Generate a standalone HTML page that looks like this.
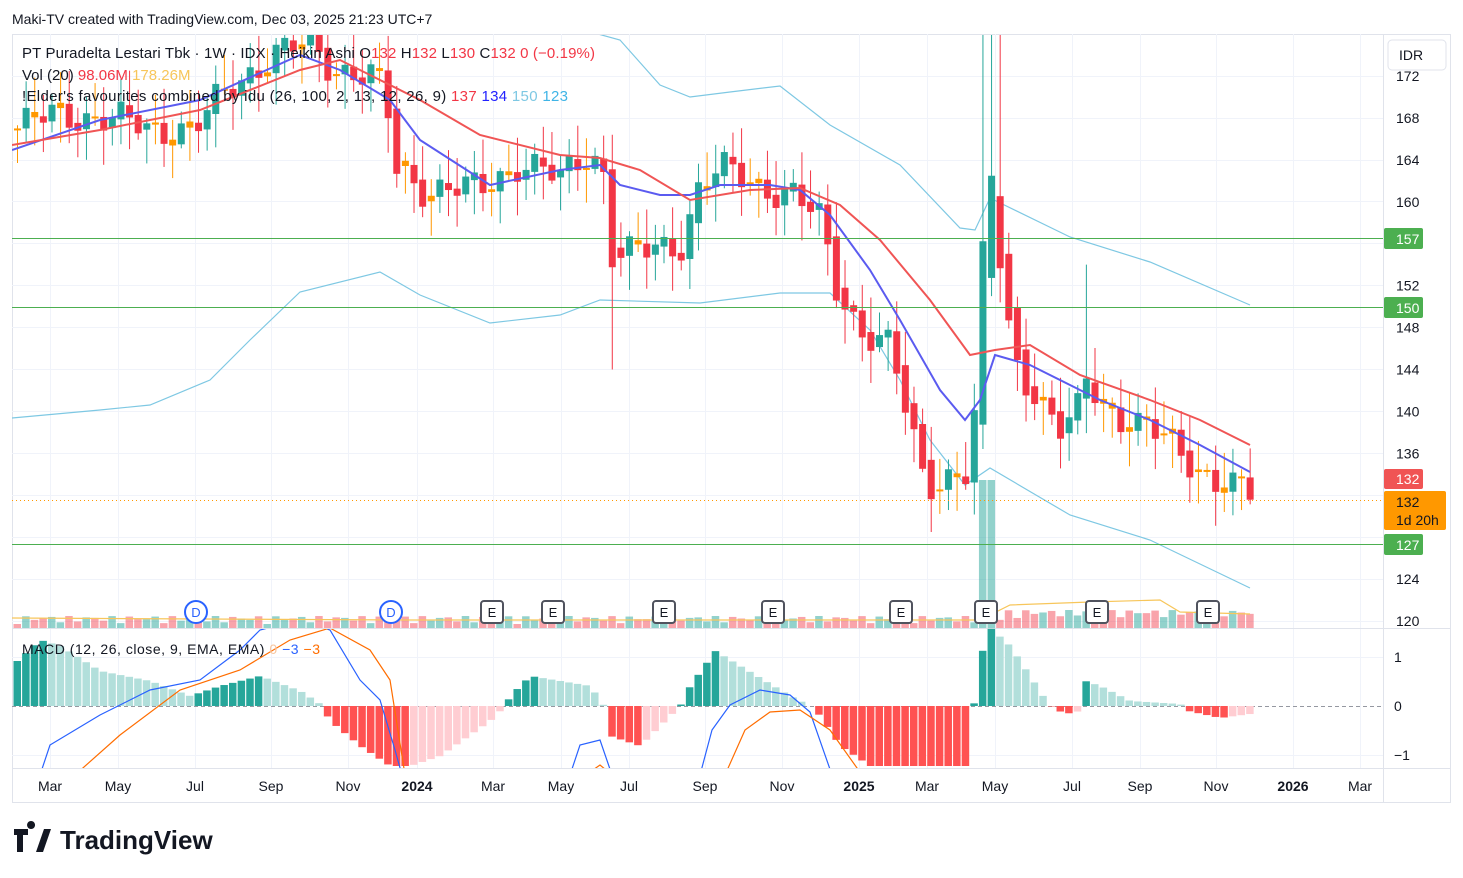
<!DOCTYPE html>
<html><head><meta charset="utf-8"><style>
body{margin:0;background:#fff;width:1463px;height:878px;overflow:hidden;font-family:"Liberation Sans",sans-serif}
svg{position:absolute;left:0;top:0}
</style></head><body>
<svg id="s" width="1463" height="878" xmlns="http://www.w3.org/2000/svg" font-family="Liberation Sans, sans-serif">
<defs><clipPath id="pc"><rect x="12" y="35" width="1371" height="593"/></clipPath></defs>
<rect x="0" y="0" width="1463" height="878" fill="#fff"/>
<text x="12" y="24" font-size="14" fill="#131722">Maki-TV created with TradingView.com, Dec 03, 2025 21:23 UTC+7</text>
<rect x="12.5" y="34.5" width="1438" height="768" fill="none" stroke="#e0e3eb"/>
<g id="grid" stroke="#f0f3fa" stroke-width="1"></g>
<line x1="12" y1="628.5" x2="1450" y2="628.5" stroke="#e0e3eb"/>
<line x1="12" y1="768.5" x2="1450" y2="768.5" stroke="#e0e3eb"/>
<line x1="1383.5" y1="34" x2="1383.5" y2="802" stroke="#e0e3eb"/>
<g clip-path="url(#pc)">
<g id="vol"></g>
<g id="bands" fill="none" stroke="#7ec8e3" stroke-width="1.2"></g>
<g id="cand"></g>
<g id="ema" fill="none" stroke-width="2"></g>
</g>
<line x1="12" y1="238.5" x2="1383" y2="238.5" stroke="#4caf50"/>
<line x1="12" y1="307.5" x2="1383" y2="307.5" stroke="#4caf50"/>
<line x1="12" y1="544.5" x2="1383" y2="544.5" stroke="#4caf50"/>
<line x1="12" y1="500.5" x2="1383" y2="500.5" stroke="#ff9800" stroke-dasharray="1,3"/>
<g id="macd"></g>
<g id="marks"></g>
<g id="axis" font-size="13" fill="#131722"></g>
<text x="22" y="58" font-size="15" fill="#131722" textLength="573" lengthAdjust="spacing">PT Puradelta Lestari Tbk · 1W · IDX · Heikin Ashi  O<tspan fill="#f23645">132</tspan>  H<tspan fill="#f23645">132</tspan>  L<tspan fill="#f23645">130</tspan>  C<tspan fill="#f23645">132</tspan>  <tspan fill="#f23645">0 (−0.19%)</tspan></text>
<text x="22" y="80" font-size="15" fill="#131722">Vol (20)  <tspan fill="#f23645">98.06M</tspan>  <tspan fill="#f7c65b">178.26M</tspan></text>
<text x="22" y="101" font-size="15" fill="#131722" textLength="546" lengthAdjust="spacing">!Elder's favourites combined by idu (26, 100, 2, 13, 12, 26, 9)  <tspan fill="#f23645">137</tspan>  <tspan fill="#2222ff">134</tspan>  <tspan fill="#7ec8e3">150</tspan>  <tspan fill="#3fb4e6">123</tspan></text>
<text x="22" y="654" font-size="14" fill="#131722" textLength="298" lengthAdjust="spacing">MACD (12, 26, close, 9, EMA, EMA)  <tspan fill="#f7c6a0">0</tspan>  <tspan fill="#2962ff">−3</tspan>  <tspan fill="#ff6d00">−3</tspan></text>
<rect x="1388" y="40" width="58" height="30" rx="4" fill="#fff" stroke="#e0e3eb"/>
<text x="1399" y="60" font-size="14" fill="#131722">IDR</text>
<g font-size="14" fill="#fff">
<rect x="1384" y="228" width="39" height="21" rx="2" fill="#4caf50"/><text x="1396" y="244">157</text>
<rect x="1384" y="297" width="39" height="21" rx="2" fill="#4caf50"/><text x="1396" y="313">150</text>
<rect x="1384" y="469" width="39" height="20" rx="2" fill="#f05454"/><text x="1396" y="484">132</text>
<rect x="1384" y="491" width="62" height="39" rx="2" fill="#ff9800"/><text x="1396" y="507" fill="#131722">132</text><text x="1396" y="525" fill="#131722">1d 20h</text>
<rect x="1384" y="534" width="39" height="21" rx="2" fill="#4caf50"/><text x="1396" y="550">127</text>
</g>
<g transform="translate(14,826)">
<path d="M0 3h14v6h-5v17h-6v-17h-3z M17 3a4 4 0 1 1 0.1 0z" fill="#131722"/>
<path d="M22 26l8-23h7l-8 23z" fill="#131722"/>
<text x="46" y="23" font-size="26" font-weight="bold" fill="#131722">TradingView</text>
</g>
</svg>
<script>
const NS="http://www.w3.org/2000/svg";
function el(p,t,a){const e=document.createElementNS(NS,t);for(const k in a)e.setAttribute(k,a[k]);document.getElementById(p).appendChild(e);return e;}
function interp(k,x){if(x<=k[0][0])return k[0][1];for(let i=1;i<k.length;i++){if(x<=k[i][0]){const[a,b]=k[i-1],[c,d]=k[i];return b+(d-b)*(x-a)/(c-a);}}return k[k.length-1][1];}
const py=p=>621-(p-120)*10.48;
for(const y of [76,118,160,201,243,285,327,369,411,453,495,537,579,621,657,755])el("grid","line",{x1:12,x2:1383,y1:y+.5,y2:y+.5});
const months=[[50,"Mar"],[118,"May"],[195,"Jul"],[271,"Sep"],[348,"Nov"],[417,"2024",1],[493,"Mar"],[561,"May"],[629,"Jul"],[705,"Sep"],[782,"Nov"],[859,"2025",1],[927,"Mar"],[995,"May"],[1072,"Jul"],[1140,"Sep"],[1216,"Nov"],[1293,"2026",1],[1360,"Mar"]];
for(const m of months){el("grid","line",{x1:m[0]+.5,x2:m[0]+.5,y1:34,y2:768});const t=el("axis","text",{x:m[0],y:791,"text-anchor":"middle","font-size":14});if(m[2])t.setAttribute("font-weight","bold");t.textContent=m[1];}
for(const p of [172,168,164,160,152,148,144,140,136,124,120]){const t=el("axis","text",{x:1396,y:py(p)+5,"font-size":14});t.textContent=p;}
for(const [v,y] of [["1",662],["0",711],["−1",760]]){const t=el("axis","text",{x:1394,y:y,"font-size":14});t.textContent=v;}
const K=[[17,167],[60,168.5],[100,168],[150,167],[195,167],[230,171],[270,174],[310,175],[330,173],[370,172],[385,170],[395,163],[420,161.5],[480,161],[520,164],[560,162],[590,165],[603,163],[612,155],[640,155],[680,156],[700,162],[720,163],[760,161.5],[790,161],[820,158],[835,152],[860,148],[890,146],[905,140],[925,133],[945,134],[965,134],[975,140],[988,165],[996,158],[1004,150],[1015,145],[1040,141],[1060,138],[1075,139],[1088,144],[1098,141],[1130,139],[1170,137],[1195,135],[1220,133],[1250,132]];
let prev=167,W=8.62;
const xs=[];for(let x=17;x<=1252;x+=W)xs.push(x);
xs.forEach((x,i)=>{
 const c=interp(K,x)+Math.sin(i*1.7)*1.2+Math.sin(i*0.63)*0.8;
 const o=prev;prev=(o+c)/2+(c-o)*0.3;
 const top=Math.max(o,c),bot=Math.min(o,c);
 const d=c-o;let col=d>0?"#26a69a":"#f23645";if(Math.abs(d)<0.6)col="#ff9800";
 const hi=top+Math.abs(Math.sin(i*2.3))*3+0.3,lo=bot-Math.abs(Math.cos(i*1.9))*3-0.3;
 let h2=hi,l2=lo;if(Math.abs(x-987)<5){h2=190;}if(Math.abs(x-995)<5){h2=185;}if(Math.abs(x-1088)<5)h2=154;if(Math.abs(x-612)<5)l2=144;
 el("cand","line",{x1:x+.5,x2:x+.5,y1:py(h2),y2:py(l2),stroke:col,"stroke-width":1});
 el("cand","rect",{x:x-3,y:py(top),width:7,height:Math.max(2,py(bot)-py(top)),fill:col});
 let vh=4+Math.abs(Math.sin(i*1.3))*8;if(Math.abs(x-987)<6)vh=148;if(x>1000)vh+=6;
 el("vol","rect",{x:x-3.5,y:628-vh,width:7.5,height:vh,fill:(d>0||Math.abs(x-987)<6)?"rgba(38,166,154,0.5)":"rgba(242,54,69,0.45)"});
});
function line(g,k,attrs){el(g,"polyline",Object.assign({points:k.map(p=>p.join(",")).join(" ")},attrs));}
line("vol",[[12,618],[400,620],[980,620],[1010,605],[1090,602],[1160,600],[1180,612],[1250,614]],{fill:"none",stroke:"#f7c65b","stroke-width":1.2});
line("bands",[[598,34],[620,40],[660,85],[690,97],[730,92],[780,86],[830,125],[900,165],[960,228],[975,230],[990,198],[1070,237],[1150,262],[1250,305]],{});
line("bands",[[12,418],[100,410],[150,405],[210,380],[250,340],[300,292],[380,272],[420,295],[490,323],[560,315],[600,300],[700,303],[780,293],[830,293],[870,330],[900,380],[930,440],[965,485],[990,468],[1070,515],[1150,540],[1250,588]],{});
line("ema",[[12,150],[100,120],[200,100],[300,55],[340,70],[390,100],[420,140],[490,185],[560,170],[600,165],[620,185],[660,195],[690,195],[720,185],[770,185],[800,190],[830,215],[870,270],[900,320],[940,390],[965,420],[980,400],[995,355],[1030,365],[1070,385],[1100,400],[1150,420],[1200,445],[1250,472]],{stroke:"#5b5bf0"});
line("ema",[[12,145],[100,130],[200,110],[300,70],[340,60],[380,80],[420,100],[480,135],[560,155],[600,158],[640,170],[690,200],[750,190],[800,188],[840,205],[880,240],[930,300],[970,355],[995,350],[1030,345],[1080,375],[1150,400],[1200,420],[1250,445]],{stroke:"#f05555"});
const H=[[17,45],[40,66],[60,60],[100,35],[150,25],[190,10],[220,20],[260,30],[300,15],[320,2],[330,-15],[360,-40],[390,-60],[410,-60],[440,-50],[490,-15],[505,0],[510,10],[530,30],[560,25],[590,20],[604,0],[610,-30],[640,-40],[670,-10],[680,0],[690,20],[715,55],[740,40],[790,10],[810,0],[820,-10],[840,-40],[870,-60],[920,-60],[970,-60],[975,22],[988,80],[1010,60],[1030,30],[1048,2],[1055,-3],[1065,-8],[1080,-5],[1085,25],[1100,20],[1130,5],[1180,2],[1188,-5],[1220,-12],[1250,-8]];
el("macd","line",{x1:12,x2:1383,y1:706.5,y2:706.5,stroke:"#9598a1","stroke-dasharray":"4,3"});
let ph=0;xs.forEach((x,i)=>{const h=interp(H,x);const inc=h>ph;let c;
 if(h>=0)c=inc?"#26a69a":"#b2dfdb";else c=inc?"#ffcdd2":"#ff5252";ph=h;
 el("macd","rect",{x:x-3.5,y:h>=0?706-h:706,width:7.5,height:Math.abs(h),fill:c});});
const cp=el("macd","clipPath",{id:"mc"});const r=document.createElementNS(NS,"rect");r.setAttribute("x",12);r.setAttribute("y",629);r.setAttribute("width",1371);r.setAttribute("height",139);cp.appendChild(r);
const ml=(k,c)=>el("macd","polyline",{points:k.map(p=>p.join(",")).join(" "),fill:"none",stroke:c,"stroke-width":1.2,"clip-path":"url(#mc)"});
ml([[40,775],[50,745],[100,715],[150,690],[200,680],[240,650],[260,630],[300,620],[330,630],[360,680],[380,700],[395,750],[402,775]],"#2962ff");
ml([[570,775],[580,745],[600,740],[612,775]],"#2962ff");
ml([[700,775],[712,730],[730,705],[760,690],[790,695],[810,712],[832,775]],"#2962ff");
ml([[75,775],[120,735],[180,690],[240,670],[290,640],[330,628],[370,650],[390,680],[405,775]],"#ff6d00");
ml([[590,772],[600,765],[612,775]],"#ff6d00");
ml([[725,775],[745,730],[770,712],[800,710],[830,730],[862,775]],"#ff6d00");
for(const x of [196,391]){el("marks","circle",{cx:x,cy:612,r:11,fill:"#fff",stroke:"#2962ff","stroke-width":2});const t=el("marks","text",{x:x,y:617,"text-anchor":"middle","font-size":13,fill:"#2962ff"});t.textContent="D";}
for(const x of [492,553,664,773,901,986,1097,1208]){el("marks","rect",{x:x-11,y:601,width:22,height:22,rx:3,fill:"#fff",stroke:"#50535e","stroke-width":2});const t=el("marks","text",{x:x,y:617,"text-anchor":"middle","font-size":13,fill:"#131722"});t.textContent="E";}
</script>
</body></html>
